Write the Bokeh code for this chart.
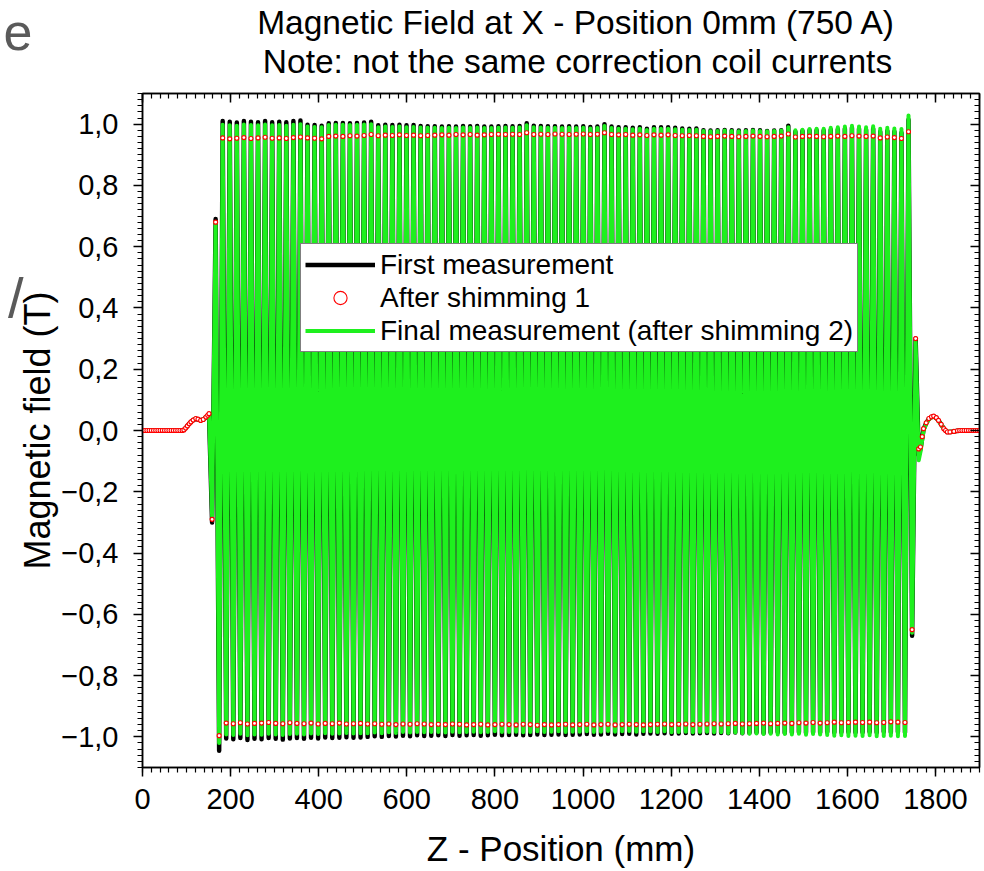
import numpy as np
from bokeh.plotting import figure
from bokeh.layouts import column
from bokeh.models import (FixedTicker, LinearAxis, Range1d, Legend, LegendItem,
                          Label, CustomJSTickFormatter)
from bokeh.embed import file_html
from bokeh.resources import INLINE

FONT = "Liberation Sans"

# ---------------- data ----------------
x_ticks = [0, 200, 400, 600, 800, 1000, 1200, 1400, 1600, 1800]
y_ticks = [-1.0, -0.8, -0.6, -0.4, -0.2, 0.0, 0.2, 0.4, 0.6, 0.8, 1.0]

# peak grid of the undulator field (mm)
n_periods = 98
first_top_z = 182.0
first_bottom_z = 174.0
period_mm = 16.05

# entrance fringe field
z_in = [0, 5, 10, 15, 20, 25, 30, 35, 40, 45, 50, 55, 60, 65, 70, 75, 80, 85, 90,
        94, 98, 102, 106, 110, 115, 121, 126, 132, 138, 144, 148, 151, 158, 166]
black_in = [0.0, 0.0, 0.0, 0.0, 0.0, 0.0, 0.0, 0.0, 0.0, 0.0, 0.0, 0.0, 0.0, 0.0, 0.0, 0.0, 0.0, 0.0, 0.0,
            0.002, 0.008, 0.015, 0.022, 0.028, 0.034, 0.038, 0.036, 0.033, 0.036, 0.043, 0.049, 0.053, -0.30, 0.69]
red_in = [0.0, 0.0, 0.0, 0.0, 0.0, 0.0, 0.0, 0.0, 0.0, 0.0, 0.0, 0.0, 0.0, 0.0, 0.0, 0.0, 0.0, 0.0, 0.0,
          0.002, 0.008, 0.015, 0.022, 0.028, 0.034, 0.039, 0.037, 0.033, 0.036, 0.044, 0.050, 0.055, -0.29, 0.68]
green_in = [0.0, 0.0, 0.0, 0.0, 0.0, 0.0, 0.0, 0.0, 0.0, 0.0, 0.0, 0.0, 0.0, 0.0, 0.0, 0.0, 0.0, 0.0, 0.0,
            0.002, 0.008, 0.015, 0.022, 0.028, 0.034, 0.039, 0.037, 0.033, 0.036, 0.044, 0.050, 0.054, -0.28, 0.68]

# positive peaks
black_top = [1.010, 1.008, 1.005, 1.010, 1.008, 1.006, 1.010, 1.006, 1.008, 1.006, 1.010,
             1.012,
             0.998, 0.997, 0.995,
             1.003, 1.004, 1.004, 1.003, 1.004, 1.005,
             1.008,
             0.996, 0.998, 0.997, 0.998, 0.996, 0.997, 0.994, 0.993,
             0.993, 0.992, 0.993, 0.992, 0.994, 0.993, 0.994, 0.992, 0.992, 0.993, 0.994, 0.993, 0.994,
             1.003,
             0.995, 0.994, 0.993, 0.993, 0.992, 0.993, 0.992, 0.993, 0.991, 0.992,
             1.000,
             0.992, 0.990, 0.990, 0.988, 0.990, 0.985, 0.990, 0.990, 0.990, 0.988, 0.986, 0.985, 0.986,
             0.980, 0.979, 0.980, 0.981, 0.980, 0.979, 0.980, 0.981, 0.980, 0.978, 0.979, 0.980,
             0.995,
             0.975, 0.978, 0.980, 0.980, 0.979, 0.982, 0.983, 0.985, 0.988, 0.985, 0.982, 0.985, 0.975, 0.978, 0.976, 0.972,
             1.014]
green_top = [0.998, 0.996, 0.995, 0.999, 0.997, 0.996, 0.999, 0.996, 0.997, 0.995, 0.998,
             1.000,
             0.992, 0.991, 0.990,
             0.997, 0.998, 0.998, 0.997, 0.998, 0.999,
             1.000,
             0.990, 0.992, 0.991, 0.992, 0.990, 0.991, 0.989, 0.988,
             0.988, 0.987, 0.988, 0.987, 0.989, 0.988, 0.989, 0.987, 0.987, 0.988, 0.989, 0.988, 0.989,
             0.996,
             0.990, 0.989, 0.988, 0.988, 0.987, 0.988, 0.987, 0.988, 0.986, 0.987,
             0.994,
             0.987, 0.985, 0.985, 0.983, 0.985, 0.981, 0.985, 0.985, 0.985, 0.983, 0.982, 0.981, 0.982,
             0.978, 0.977, 0.978, 0.979, 0.978, 0.977, 0.978, 0.979, 0.978, 0.977, 0.978, 0.979,
             0.990,
             0.980, 0.982, 0.984, 0.985, 0.985, 0.988, 0.990, 0.992, 0.995, 0.992, 0.990, 0.993, 0.985, 0.988, 0.986, 0.984,
             1.028]
red_top = [0.955, 0.952, 0.954, 0.956, 0.953, 0.955, 0.957, 0.954, 0.955, 0.953, 0.956,
           0.958,
           0.955, 0.954, 0.952,
           0.960, 0.961, 0.960, 0.962, 0.961, 0.963,
           0.966,
           0.962, 0.964, 0.963, 0.965, 0.963, 0.964, 0.962, 0.963,
           0.964, 0.965, 0.964, 0.966, 0.965, 0.966, 0.964, 0.965, 0.966, 0.967, 0.966, 0.967, 0.966,
           0.972,
           0.966, 0.967, 0.966, 0.968, 0.967, 0.966, 0.967, 0.968, 0.966, 0.967,
           0.972,
           0.966, 0.965, 0.966, 0.964, 0.965, 0.963, 0.965, 0.964, 0.965, 0.963, 0.962, 0.963, 0.962,
           0.960, 0.959, 0.960, 0.961, 0.960, 0.959, 0.960, 0.961, 0.960, 0.959, 0.960, 0.961,
           0.968,
           0.958, 0.960, 0.961, 0.960, 0.959, 0.960, 0.961, 0.960, 0.962, 0.961, 0.960, 0.961, 0.955, 0.958, 0.956, 0.953,
           0.975]

# negative peaks
black_bot = [-1.045,
             -1.005, -1.008, -1.004, -1.010, -1.006, -1.008, -1.004, -1.006, -1.009, -1.005,
             -1.004, -1.006, -1.003, -1.005, -1.002, -1.004, -1.003, -1.001, -1.003, -1.002,
             -1.000, -0.998, -1.000, -0.997, -0.999, -0.996, -0.998, -0.995, -0.997, -0.996,
             -0.995, -0.997, -0.994, -0.996, -0.995, -0.994, -0.996, -0.995, -0.993, -0.995,
             -0.994, -0.993, -0.995, -0.994, -0.992, -0.994, -0.993, -0.992, -0.994, -0.993,
             -0.992, -0.991, -0.993, -0.992, -0.990, -0.992, -0.991, -0.990, -0.992, -0.990,
             -0.989, -0.990, -0.988, -0.990, -0.989, -0.987, -0.989, -0.988, -0.987, -0.989,
             -0.987, -0.988, -0.986, -0.988, -0.987, -0.986, -0.988, -0.986, -0.985, -0.987,
             -0.986, -0.985, -0.987, -0.985, -0.986, -0.984, -0.986, -0.985, -0.984, -0.986,
             -0.985, -0.984, -0.986, -0.983, -0.985, -0.984, -0.986]
green_bot = [-1.020,
             -0.992, -0.994, -0.990, -0.995, -0.992, -0.993, -0.990, -0.992, -0.994, -0.991,
             -0.990, -0.992, -0.989, -0.991, -0.988, -0.990, -0.989, -0.987, -0.989, -0.988,
             -0.988, -0.986, -0.988, -0.985, -0.987, -0.984, -0.986, -0.984, -0.985, -0.984,
             -0.984, -0.986, -0.983, -0.985, -0.984, -0.983, -0.985, -0.984, -0.982, -0.984,
             -0.984, -0.983, -0.985, -0.984, -0.982, -0.984, -0.983, -0.982, -0.984, -0.983,
             -0.983, -0.982, -0.984, -0.983, -0.981, -0.983, -0.982, -0.981, -0.983, -0.982,
             -0.982, -0.984, -0.982, -0.985, -0.984, -0.983, -0.985, -0.984, -0.983, -0.985,
             -0.985, -0.987, -0.986, -0.988, -0.990, -0.989, -0.991, -0.990, -0.992, -0.991,
             -0.992, -0.990, -0.993, -0.991, -0.992, -0.994, -0.996, -0.995, -0.997, -0.996,
             -0.997, -0.995, -0.998, -0.997, -0.996, -0.998, -0.997]
red_bot = [-0.996,
           -0.955, -0.957, -0.954, -0.958, -0.956, -0.955, -0.953, -0.956, -0.957, -0.954,
           -0.956, -0.957, -0.955, -0.958, -0.956, -0.957, -0.955, -0.958, -0.957, -0.956,
           -0.958, -0.957, -0.959, -0.958, -0.960, -0.958, -0.959, -0.957, -0.958, -0.960,
           -0.959, -0.960, -0.958, -0.959, -0.961, -0.960, -0.959, -0.961, -0.960, -0.959,
           -0.960, -0.961, -0.959, -0.960, -0.962, -0.960, -0.961, -0.960, -0.959, -0.961,
           -0.960, -0.959, -0.961, -0.960, -0.959, -0.961, -0.960, -0.959, -0.960, -0.961,
           -0.960, -0.959, -0.958, -0.960, -0.959, -0.958, -0.960, -0.959, -0.958, -0.957,
           -0.958, -0.957, -0.956, -0.958, -0.957, -0.956, -0.955, -0.957, -0.956, -0.955,
           -0.956, -0.954, -0.955, -0.953, -0.955, -0.954, -0.952, -0.954, -0.953, -0.952,
           -0.953, -0.952, -0.954, -0.953, -0.951, -0.952, -0.953]

# exit fringe field
z_out = [1747, 1755, 1762, 1766, 1770, 1773, 1779, 1785, 1791, 1796,
         1802, 1807, 1813, 1819, 1823, 1827, 1833, 1842, 1850,
         1855, 1860, 1865, 1870, 1875, 1880, 1885, 1890, 1895, 1900]
black_out = [-0.67, 0.30, -0.080, -0.060, -0.025, 0.004, 0.024, 0.038, 0.044, 0.046,
             0.041, 0.033, 0.020, 0.006, 0.0, -0.005, -0.005, -0.003, -0.001,
             0.0, 0.0, 0.0, 0.0, 0.0, 0.0, 0.0, 0.0, 0.0, 0.0]
red_out = [-0.65, 0.30, -0.060, -0.054, -0.020, 0.006, 0.025, 0.039, 0.045, 0.047,
           0.042, 0.033, 0.020, 0.006, 0.0, -0.005, -0.005, -0.003, -0.001,
           0.0, 0.0, 0.0, 0.0, 0.0, 0.0, 0.0, 0.0, 0.0, 0.0]
green_out = [-0.66, 0.29, -0.097, -0.070, -0.030, 0.0, 0.022, 0.036, 0.043, 0.045,
             0.040, 0.032, 0.019, 0.006, 0.0, -0.004, -0.004, -0.003, -0.001,
             0.0, 0.0, 0.0, 0.0, 0.0, 0.0, 0.0, 0.0, 0.0, 0.0]

title_1 = "Magnetic Field at X - Position 0mm (750 A)"
title_2 = "Note: not the same correction coil currents"
x_label = "Z - Position (mm)"
y_label = "Magnetic field (T)"
names = ["First measurement", "After shimming 1", "Final measurement (after shimming 2)"]
edge_texts = ["e", "/"]   # cut-off slide letters at the left edge of the picture

# ---------------- assemble series ----------------
top_z = first_top_z + period_mm * np.arange(n_periods)
bot_z = first_bottom_z + period_mm * np.arange(n_periods)


def series(z_a, v_a, bot, top, z_b, v_b):
    zz = list(z_a)
    vv = list(v_a)
    for k in range(n_periods):
        zz += [float(bot_z[k]), float(top_z[k])]
        vv += [bot[k], top[k]]
    zz += list(z_b)
    vv += list(v_b)
    return zz, vv


zb, vb = series(z_in, black_in, black_bot, black_top, z_out, black_out)
zr, vr = series(z_in, red_in, red_bot, red_top, z_out, red_out)
zg, vg = series(z_in, green_in, green_bot, green_top, z_out, green_out)


def text_axis(tick, label, size, standoff):
    ax = LinearAxis(ticker=FixedTicker(ticks=[tick], minor_ticks=[]),
                    major_label_overrides={tick: label})
    ax.axis_line_color = None
    ax.major_tick_line_color = None
    ax.minor_tick_line_color = None
    ax.major_tick_out = 0
    ax.major_tick_in = 0
    ax.major_label_standoff = standoff
    ax.major_label_text_font = FONT
    ax.major_label_text_font_size = size
    ax.major_label_text_color = "#5a5a5a"
    return ax


# ---------------- title strip (page pixel coordinates) ----------------
TH = 91
tfig = figure(width=984, height=TH, x_range=Range1d(142, 979), y_range=Range1d(0, TH),
              output_backend="svg", toolbar_location=None, title=None,
              min_border=0, x_axis_location=None, y_axis_location=None)
tfig.outline_line_color = None
tfig.xgrid.visible = False
tfig.ygrid.visible = False
tfig.background_fill_color = "white"
tfig.border_fill_color = "white"
tfig.add_layout(Label(x=576, y=TH - 22, text=title_1, text_align="center", text_baseline="middle",
                      text_font=FONT, text_font_size="33.5px", text_color="black"))
tfig.add_layout(Label(x=577, y=TH - 61, text=title_2, text_align="center", text_baseline="middle",
                      text_font=FONT, text_font_size="33.5px", text_color="black"))
tfig.add_layout(text_axis(TH - 31, edge_texts[0], "52px", 110), "left")

# ---------------- main figure ----------------
p = figure(width=984, height=871 - TH, x_range=Range1d(0, 1900), y_range=Range1d(-1.1, 1.1),
           output_backend="svg", toolbar_location=None, title=None,
           min_border_left=142, min_border_right=5, min_border_top=2, min_border_bottom=104,
           x_axis_location=None, y_axis_location=None)
p.background_fill_color = "white"
p.border_fill_color = "white"
p.outline_line_color = "black"
p.outline_line_width = 1.5
p.xgrid.visible = False
p.ygrid.visible = False

xt = FixedTicker(ticks=x_ticks, minor_ticks=list(range(0, 1901, 20)))
yt = FixedTicker(ticks=y_ticks, minor_ticks=[round(-1.1 + 0.02 * i, 2) for i in range(111)])
yfmt = CustomJSTickFormatter(code="return tick.toFixed(1).replace('.', ',').replace('-', '\u2212');")
blank = CustomJSTickFormatter(code="return '';")


def style_axis(ax, inside=False):
    ax.axis_line_color = "black"
    ax.axis_line_width = 1.5
    ax.major_tick_line_color = "black"
    ax.minor_tick_line_color = "black"
    ax.major_tick_line_width = 1.5
    ax.minor_tick_line_width = 1.2
    if inside:
        ax.major_tick_in, ax.major_tick_out = 9, 0
        ax.minor_tick_in, ax.minor_tick_out = 5, 0
        ax.formatter = blank
        ax.major_label_standoff = 0
    else:
        ax.major_tick_in, ax.major_tick_out = 0, 9
        ax.minor_tick_in, ax.minor_tick_out = 0, 5
    ax.major_label_text_font = FONT
    ax.major_label_text_font_size = "29px"
    ax.major_label_text_color = "black"
    ax.axis_label_text_font = FONT
    ax.axis_label_text_font_style = "normal"
    ax.axis_label_text_color = "black"


xb = LinearAxis(ticker=xt, axis_label=x_label)
style_axis(xb)
xb.axis_label_text_font_size = "35px"
xb.major_label_standoff = 12
xb.axis_label_standoff = 17
p.add_layout(xb, "below")

yl = LinearAxis(ticker=yt, formatter=yfmt, axis_label=y_label)
style_axis(yl)
yl.axis_label_text_font_size = "36px"
yl.major_label_standoff = 15
yl.axis_label_standoff = 0
p.add_layout(yl, "left")
p.add_layout(text_axis(0.433, edge_texts[1], "56px", -9), "left")

xa = LinearAxis(ticker=xt)
style_axis(xa, inside=True)
p.add_layout(xa, "above")
yr = LinearAxis(ticker=yt)
style_axis(yr, inside=True)
p.add_layout(yr, "right")

r_black = p.line(zb, vb, line_color="black", line_width=4.5, line_join="round")
r_green = p.line(zg, vg, line_color="#1ef01e", line_width=4, line_join="round")
r_red = p.scatter(zr, vr, marker="circle", size=4, line_color="red", line_width=1.1,
                  fill_color="white")

legend = Legend(items=[LegendItem(label=names[0], renderers=[r_black]),
                       LegendItem(label=names[1], renderers=[r_red]),
                       LegendItem(label=names[2], renderers=[r_green])],
                location=(158, 415))
legend.label_text_font = FONT
legend.label_text_font_size = "28px"
legend.label_text_color = "black"
legend.glyph_width = 70
legend.glyph_height = 33
legend.label_height = 33
legend.spacing = 0
legend.padding = 4
legend.margin = 0
legend.label_standoff = 5
legend.border_line_color = "black"
legend.border_line_width = 1
legend.background_fill_alpha = 1.0
p.add_layout(legend, "center")

layout = column(tfig, p, spacing=0)
open("out.html", "w").write(file_html(layout, INLINE))
